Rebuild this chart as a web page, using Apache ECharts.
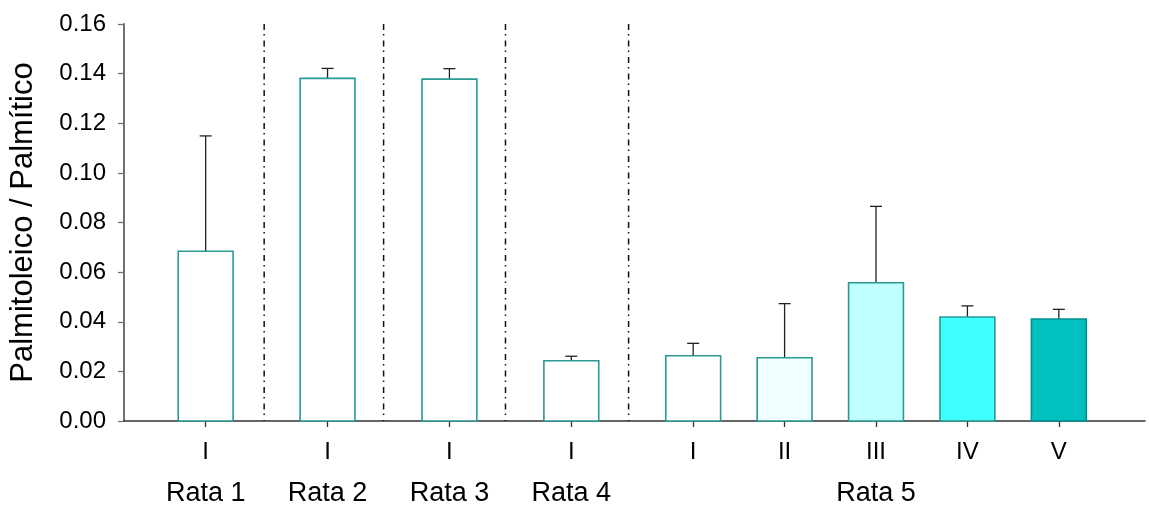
<!DOCTYPE html>
<html>
<head>
<meta charset="utf-8">
<title>Palmitoleico / Palmítico</title>
<script src="https://cdn.jsdelivr.net/npm/echarts@6/dist/echarts.min.js"></script>
<style>
  html, body { margin: 0; padding: 0; background: #ffffff; }
  #chart { width: 1149px; height: 508px; }
</style>
</head>
<body>
<div id="chart"></div>
<script>
// Category labels along the x axis and where each one sits on it
const categories = ['I', 'I', 'I', 'I', 'I', 'II', 'III', 'IV', 'V'];
const xPos = [1, 2, 3, 4, 5, 5.75, 6.5, 7.25, 8];

// Mean ratio and standard deviation for each bar
const means = [0.0684, 0.1381, 0.1378, 0.0243, 0.0263, 0.0255, 0.0557, 0.0419, 0.0411];
const sd = [0.0465, 0.0040, 0.0042, 0.0018, 0.0050, 0.0218, 0.0308, 0.0045, 0.0039];

// Animal groups and their label positions
const groups = ['Rata 1', 'Rata 2', 'Rata 3', 'Rata 4', 'Rata 5'];
const groupPos = [1, 2, 3, 4, 6.5];

// Dash-dot dividers between animals
const separators = [1.48, 2.46, 3.46, 4.47];

// Y axis range
const yMin = 0, yMax = 0.16, yStep = 0.02;

// Fill colours: plain samples, then the Rata 5 series I..V
const fills = ['#ffffff', '#ffffff', '#ffffff', '#ffffff', '#ffffff', '#f0ffff', '#c0ffff', '#40ffff', '#00c0c0'];
const borders = ['#2a9893', '#2a9893', '#2a9893', '#2a9893', '#2a9893', '#2a9893', '#2a9893', '#2a9893', '#00908e'];

const FONT = "'Liberation Sans', Arial, sans-serif";

function labelAt(list, positions, value) {
  for (let i = 0; i < positions.length; i++) {
    if (Math.abs(positions[i] - value) < 1e-6) return list[i];
  }
  return '';
}

const barData = means.map((m, i) => [xPos[i], m, m + sd[i], i]);
const sepData = separators.map(s => [s]);

const chart = echarts.init(document.getElementById('chart'), null, { renderer: 'canvas' });

chart.setOption({
  animation: false,
  backgroundColor: '#ffffff',
  grid: { left: 122, right: 4, top: 24, bottom: 87, containLabel: false },
  xAxis: [
    {
      type: 'value',
      min: 0.33,
      max: 8.707,
      position: 'bottom',
      splitLine: { show: false },
      axisLine: { show: true, onZero: false, lineStyle: { color: '#333333', width: 1.5 } },
      axisTick: { show: true, length: 6, inside: false, customValues: xPos, lineStyle: { color: '#333333', width: 1.3 } },
      axisLabel: {
        show: true,
        customValues: xPos,
        margin: 19,
        fontSize: 24,
        fontFamily: FONT,
        color: '#000000',
        formatter: v => labelAt(categories, xPos, v)
      }
    },
    {
      type: 'value',
      min: 0.33,
      max: 8.707,
      position: 'bottom',
      splitLine: { show: false },
      axisLine: { show: false },
      axisTick: { show: false },
      axisLabel: {
        show: true,
        customValues: groupPos,
        margin: 59,
        fontSize: 27,
        fontFamily: FONT,
        color: '#000000',
        formatter: v => labelAt(groups, groupPos, v)
      }
    }
  ],
  yAxis: {
    type: 'value',
    min: yMin,
    max: yMax,
    interval: yStep,
    name: 'Palmitoleico / Palmítico',
    nameLocation: 'middle',
    nameRotate: 90,
    nameGap: 85,
    nameTextStyle: { fontSize: 31, fontFamily: FONT, color: '#000000' },
    splitLine: { show: false },
    axisLine: { show: true, lineStyle: { color: '#707070', width: 2 } },
    axisTick: { show: true, length: 6, inside: false, lineStyle: { color: '#707070', width: 1.3 } },
    axisLabel: {
      margin: 18,
      fontSize: 24,
      fontFamily: FONT,
      color: '#000000',
      formatter: v => v.toFixed(2)
    }
  },
  series: [
    {
      // vertical dash-dot dividers spanning the full value range
      type: 'custom',
      xAxisIndex: 0,
      data: sepData,
      silent: true,
      z: 1,
      renderItem: (params, api) => {
        const x = api.value(0);
        const top = api.coord([x, yMax]);
        const bottom = api.coord([x, yMin]);
        return {
          type: 'line',
          shape: { x1: top[0], y1: top[1], x2: bottom[0], y2: bottom[1] },
          style: { stroke: '#111111', lineWidth: 1.5, lineDash: [6, 4, 1.5, 5] }
        };
      }
    },
    {
      // bars with upward standard-deviation whiskers
      type: 'custom',
      xAxisIndex: 0,
      data: barData,
      silent: true,
      z: 2,
      renderItem: (params, api) => {
        const x = api.value(0);
        const m = api.value(1);
        const hi = api.value(2);
        const idx = api.value(3);
        const base = api.coord([x, 0]);
        const topPt = api.coord([x, m]);
        const hiPt = api.coord([x, hi]);
        const w = api.size([0.45, 0])[0];
        const cap = 12;
        return {
          type: 'group',
          children: [
            {
              type: 'line',
              shape: { x1: topPt[0], y1: topPt[1], x2: hiPt[0], y2: hiPt[1] },
              style: { stroke: '#222222', lineWidth: 1.3 }
            },
            {
              type: 'line',
              shape: { x1: hiPt[0] - cap / 2, y1: hiPt[1], x2: hiPt[0] + cap / 2, y2: hiPt[1] },
              style: { stroke: '#222222', lineWidth: 1.3 }
            },
            {
              type: 'rect',
              shape: { x: base[0] - w / 2, y: topPt[1], width: w, height: base[1] - topPt[1] },
              style: { fill: fills[idx], stroke: borders[idx], lineWidth: 1.6 }
            }
          ]
        };
      }
    }
  ]
});
</script>
</body>
</html>
